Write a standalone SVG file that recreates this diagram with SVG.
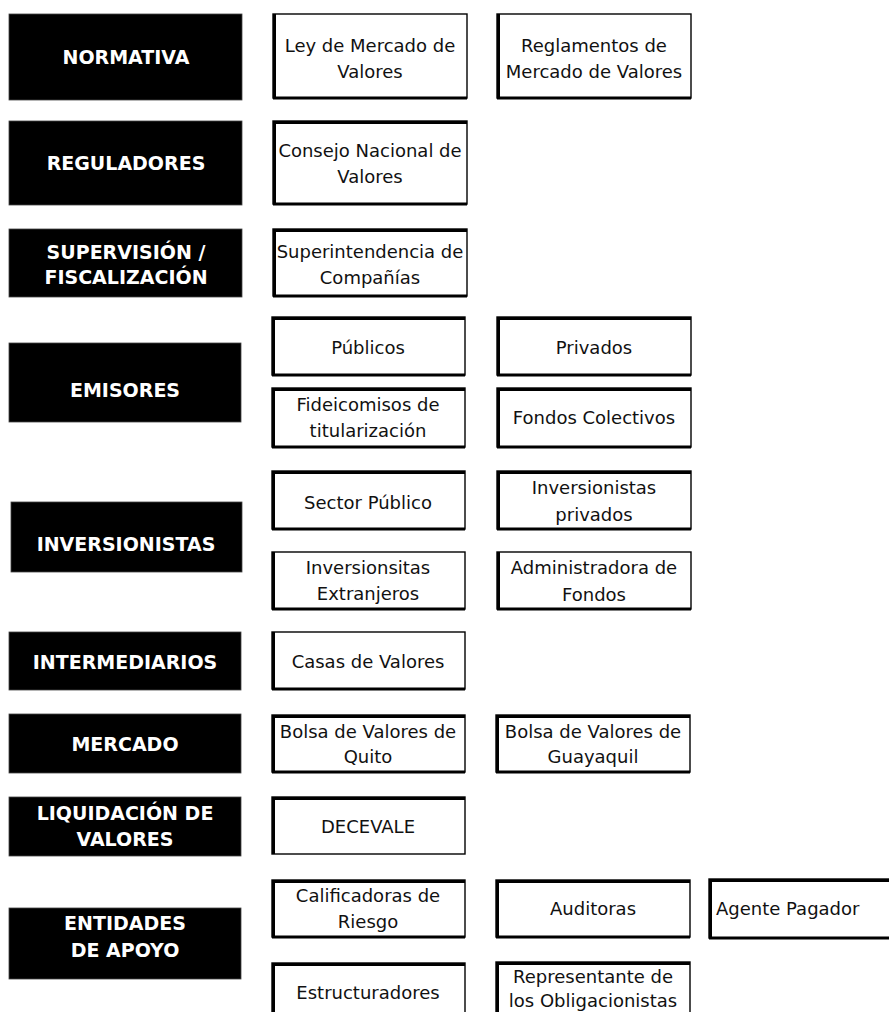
<svg xmlns="http://www.w3.org/2000/svg" width="889" height="1012" viewBox="0 0 889 1012">
<style>
.cat{fill:#000;stroke:#444;stroke-width:0.8}
.ct{font-family:"DejaVu Sans",Verdana,sans-serif;font-weight:bold;font-size:19px;fill:#fff;text-anchor:middle}
.box{fill:#fff;stroke:#000;stroke-width:1.4}
.edge{fill:none;stroke:#000;stroke-width:3}
.bt{font-family:"DejaVu Sans",Verdana,sans-serif;font-size:18px;fill:#111;text-anchor:middle}
</style>
<rect width="889" height="1012" fill="#fff"/>
<g id="connectors"></g>

<g id="normativa"><rect class="cat" x="9" y="14" width="233" height="86"/><text class="ct" x="126" y="64">NORMATIVA</text></g>
<g id="ley"><rect class="box" x="273" y="14" width="194" height="84"/><path class="edge" d="M274.5,14V98H467"/><text class="bt" x="370" y="52">Ley de Mercado de</text><text class="bt" x="370" y="78">Valores</text></g>
<g id="reglamentos"><rect class="box" x="497" y="14" width="194" height="84"/><path class="edge" d="M498.5,14V98H691"/><text class="bt" x="594" y="52">Reglamentos de</text><text class="bt" x="594" y="78">Mercado de Valores</text></g>

<g id="reguladores"><rect class="cat" x="9" y="121" width="233" height="84"/><text class="ct" x="126" y="170">REGULADORES</text></g>
<g id="consejo"><rect class="box" x="273" y="121" width="194" height="83"/><path class="edge" d="M274.5,121V204H467M273,122.5H467"/><text class="bt" x="370" y="157">Consejo Nacional de</text><text class="bt" x="370" y="183">Valores</text></g>

<g id="supervision"><rect class="cat" x="9" y="229" width="233" height="68"/><text class="ct" x="126" y="259">SUPERVISIÓN /</text><text class="ct" x="126" y="284">FISCALIZACIÓN</text></g>
<g id="superintendencia"><rect class="box" x="273" y="229" width="194" height="67"/><path class="edge" d="M274.5,229V296H467M273,230.5H467"/><text class="bt" x="370" y="258">Superintendencia de</text><text class="bt" x="370" y="284">Compañías</text></g>

<g id="emisores"><rect class="cat" x="9" y="343" width="232" height="79"/><text class="ct" x="125" y="397">EMISORES</text></g>
<g id="publicos"><rect class="box" x="272" y="317" width="193" height="58"/><path class="edge" d="M273.5,317V375H465M272,318.5H465"/><text class="bt" x="368" y="354">Públicos</text></g>
<g id="privados"><rect class="box" x="497" y="317" width="194" height="58"/><path class="edge" d="M498.5,317V375H691M497,318.5H691"/><text class="bt" x="594" y="354">Privados</text></g>
<g id="fideicomisos"><rect class="box" x="272" y="388" width="193" height="59"/><path class="edge" d="M273.5,388V447H465M272,389.5H465"/><text class="bt" x="368" y="411">Fideicomisos de</text><text class="bt" x="368" y="437">titularización</text></g>
<g id="fondos-colectivos"><rect class="box" x="497" y="388" width="194" height="59"/><path class="edge" d="M498.5,388V447H691M497,389.5H691"/><text class="bt" x="594" y="424">Fondos Colectivos</text></g>

<g id="inversionistas"><rect class="cat" x="11" y="502" width="231" height="70"/><text class="ct" x="126" y="551">INVERSIONISTAS</text></g>
<g id="sector-publico"><rect class="box" x="272" y="471" width="193" height="58"/><path class="edge" d="M273.5,471V529H465M272,472.5H465"/><text class="bt" x="368" y="509">Sector Público</text></g>
<g id="inv-privados"><rect class="box" x="497" y="471" width="194" height="58"/><path class="edge" d="M498.5,471V529H691M497,472.5H691"/><text class="bt" x="594" y="494">Inversionistas</text><text class="bt" x="594" y="521">privados</text></g>
<g id="inv-extranjeros"><rect class="box" x="272" y="552" width="193" height="57"/><path class="edge" d="M273.5,552V609H465"/><text class="bt" x="368" y="574">Inversionsitas</text><text class="bt" x="368" y="600">Extranjeros</text></g>
<g id="administradora"><rect class="box" x="497" y="552" width="194" height="57"/><path class="edge" d="M498.5,552V609H691"/><text class="bt" x="594" y="574">Administradora de</text><text class="bt" x="594" y="601">Fondos</text></g>

<g id="intermediarios"><rect class="cat" x="9" y="632" width="232" height="58"/><text class="ct" x="125" y="669">INTERMEDIARIOS</text></g>
<g id="casas"><rect class="box" x="272" y="632" width="193" height="57"/><path class="edge" d="M273.5,632V689H465"/><text class="bt" x="368" y="668">Casas de Valores</text></g>

<g id="mercado"><rect class="cat" x="9" y="714" width="232" height="59"/><text class="ct" x="125" y="751">MERCADO</text></g>
<g id="bolsa-quito"><rect class="box" x="272" y="715" width="193" height="57"/><path class="edge" d="M273.5,715V772H465M272,716.5H465"/><text class="bt" x="368" y="738">Bolsa de Valores de</text><text class="bt" x="368" y="763">Quito</text></g>
<g id="bolsa-guayaquil"><rect class="box" x="496" y="715" width="194" height="57"/><path class="edge" d="M497.5,715V772H690M496,716.5H690"/><text class="bt" x="593" y="738">Bolsa de Valores de</text><text class="bt" x="593" y="763">Guayaquil</text></g>

<g id="liquidacion"><rect class="cat" x="9" y="797" width="232" height="59"/><text class="ct" x="125" y="820">LIQUIDACIÓN DE</text><text class="ct" x="125" y="846">VALORES</text></g>
<g id="decevale"><rect class="box" x="272" y="797" width="193" height="57"/><path class="edge" d="M273.5,797V854M272,798.5H465"/><text class="bt" x="368" y="833">DECEVALE</text></g>

<g id="entidades"><rect class="cat" x="9" y="908" width="232" height="71"/><text class="ct" x="125" y="930">ENTIDADES</text><text class="ct" x="125" y="957">DE APOYO</text></g>
<g id="calificadoras"><rect class="box" x="272" y="880" width="193" height="57"/><path class="edge" d="M273.5,880V937H465M272,881.5H465"/><text class="bt" x="368" y="902">Calificadoras de</text><text class="bt" x="368" y="928">Riesgo</text></g>
<g id="auditoras"><rect class="box" x="496" y="880" width="194" height="57"/><path class="edge" d="M497.5,880V937H690M496,881.5H690"/><text class="bt" x="593" y="915">Auditoras</text></g>
<g id="agente-pagador"><rect class="box" x="709" y="879" width="190" height="59"/><path class="edge" d="M710.5,879V938H889M709,880.5H889"/><text class="bt" x="716" y="915" style="text-anchor:start">Agente Pagador</text></g>
<g id="estructuradores"><rect class="box" x="272" y="963" width="193" height="70"/><path class="edge" d="M273.5,963V1012M272,964.5H465"/><text class="bt" x="368" y="999">Estructuradores</text></g>
<g id="representante"><rect class="box" x="496" y="962" width="194" height="70"/><path class="edge" d="M497.5,962V1012M496,963.5H690"/><text class="bt" x="593" y="983">Representante de</text><text class="bt" x="593" y="1007">los Obligacionistas</text></g>
</svg>
